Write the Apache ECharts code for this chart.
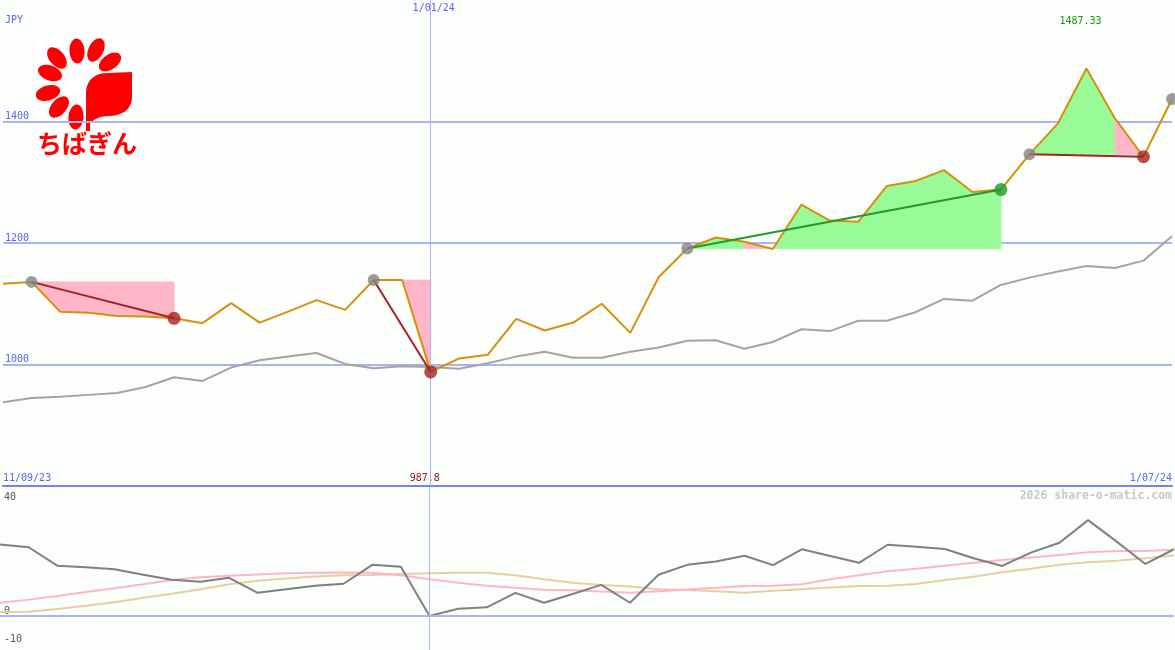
<!DOCTYPE html>
<html><head><meta charset="utf-8">
<script src="https://cdn.jsdelivr.net/npm/echarts@6/dist/echarts.min.js"></script>
<style>html,body{margin:0;padding:0;background:#fcfefc}#c{width:1175px;height:650px}</style>
</head><body><div id="c"></div>
<script>
// ---- data ----
const categories = ['18/09/23','25/09/23','2/10/23','9/10/23','16/10/23','23/10/23','30/10/23','6/11/23','13/11/23','20/11/23','27/11/23','4/12/23','11/12/23','18/12/23','25/12/23','1/01/24','8/01/24','15/01/24','22/01/24','29/01/24','5/02/24','12/02/24','19/02/24','26/02/24','4/03/24','11/03/24','18/03/24','25/03/24','1/04/24','8/04/24','15/04/24','22/04/24','29/04/24','6/05/24','13/05/24','20/05/24','27/05/24','3/06/24','10/06/24','17/06/24','24/06/24','1/07/24'];
const closePrices = [1133,1136,1087,1085,1080,1079,1076,1068,1101,1069,1087,1106,1090,1139,1139,987.8,1010,1016,1075,1056,1069,1100,1052,1144,1191,1209,1202,1190,1263,1237,1235,1294,1302,1320,1284,1288,1346,1397,1487.33,1405,1342,1437];
const movingAvg = [938,945,947,950,953,963,979,973,995,1007,1013,1019,1001,994,997,996,993,1002,1013,1021,1011,1011,1021,1028,1039,1040,1026,1037,1058,1055,1072,1072,1086,1108,1105,1131,1143,1153,1162,1159,1171,1211];
const oscDark = [25.3,24.3,17.8,17.2,16.5,14.6,12.8,12.1,13.5,8.2,9.5,10.7,11.4,18.1,17.4,0,2.6,3.1,8.2,4.7,7.8,11.0,4.7,14.6,18.1,19.3,21.3,18.0,23.6,21.2,18.8,25.2,24.5,23.7,20.4,17.7,22.4,25.9,33.9,26.3,18.4,23.6];
const oscPink = [4.7,5.8,7.1,8.5,9.8,11.2,12.7,13.7,14.2,14.7,15.1,15.3,15.4,15.3,14.4,13.0,11.8,10.7,10.0,9.3,9.1,8.7,8.2,8.8,9.4,10.0,10.6,10.7,11.2,13.0,14.4,15.8,16.7,17.8,18.8,19.8,20.7,21.6,22.5,23.0,23.0,23.4];
const oscTan = [1.4,1.5,2.5,3.6,4.9,6.5,7.9,9.5,11.2,12.5,13.3,14.0,14.4,14.5,14.9,15.1,15.3,15.3,14.4,13.0,11.8,11.0,10.4,9.5,9.2,8.8,8.2,8.9,9.5,10.1,10.6,10.7,11.3,12.7,13.9,15.5,16.7,18.1,19.0,19.5,20.4,21.4];
const swings = [[1,6],[13,15],[24,35],[36,40]];
const openSwingStarts = [41];
const bottomTickLabels = [[0,'11/09/23'],[41,'1/07/24']];
const topTickLabels = [[15,'1/01/24']];
const yearMarkIndex = 15;
const priceTickLabels = [1000,1200,1400];
const oscTickLabels = [-10,0,40];

// ---- colours ----
const BLUE_TXT='#5566ee', GRID='#a8b4f4', SEP='#7383e6';
const ORANGE='#d8900c', MA_GRAY='#a4a4a4';
const PINK_FILL='#ffb6c8', GREEN_FILL='#98fb98';
const DARKRED='#a52222', GREEN='#22992a', MARK_GRAY='#858585';
const MONO='"DejaVu Sans Mono", monospace';

let lowIdx=0, highIdx=0;
closePrices.forEach((v,i)=>{ if(v<closePrices[lowIdx]) lowIdx=i; if(v>closePrices[highIdx]) highIdx=i; });
const bottomMap={}; bottomTickLabels.forEach(([i,l])=>bottomMap[i]=l);
const topMap={}; topTickLabels.forEach(([i,l])=>topMap[i]=l);

// fill segments
const fillData=[];
swings.forEach(([s,e])=>{ const lvl=closePrices[s]; for(let i=s+1;i<=e;i++) fillData.push([i,lvl]); });
const swingData = swings.map(([s,e])=>[s,e]);
const markerData=[];
swings.forEach(([s,e])=>{
  markerData.push({value:[s,closePrices[s]],symbolSize:12,itemStyle:{color:MARK_GRAY}});
  markerData.push({value:[e,closePrices[e]],symbolSize:13,itemStyle:{color:closePrices[e]>=closePrices[s]?GREEN:DARKRED}});
});
openSwingStarts.forEach(s=>markerData.push({value:[s,closePrices[s]],symbolSize:12,itemStyle:{color:MARK_GRAY}}));

// ---- logo (drawing, not data) ----
function bez(p0,p1,p2,p3,n){const o=[];for(let k=1;k<=n;k++){const t=k/n,u=1-t;o.push([u*u*u*p0[0]+3*u*u*t*p1[0]+3*u*t*t*p2[0]+t*t*t*p3[0],u*u*u*p0[1]+3*u*u*t*p1[1]+3*u*t*t*p2[1]+t*t*t*p3[1]]);}return o;}
const leafPts=[[86,131],[86,93]]
  .concat(bez([86,93],[86,80],[95,73],[108,73],10))
  .concat([[132,72],[132,97]])
  .concat(bez([132,97],[132,110],[121,116],[109,116],10))
  .concat(bez([109,116],[100,116],[93,119],[90,124],6))
  .concat([[90,131]]);
const flowerC=[79,84];
const petals=[[77,51],[96,50],[57,58],[110,62],[50,73],[48,93],[59,107],[76,117]];
const logoEls=[{type:'rect',shape:{x:35,y:33,width:100,height:130},style:{fill:'#ffffff'}}];
petals.forEach(([x,y])=>{
  const th=Math.atan2(x-flowerC[0], -(y-flowerC[1]));
  logoEls.push({type:'ellipse',x:x,y:y,rotation:-th,shape:{cx:0,cy:0,rx:7.5,ry:12.5},style:{fill:'#ff0000'}});
});
logoEls.push({type:'polygon',shape:{points:leafPts},style:{fill:'#ff0000'}});
logoEls.push({type:'text',x:37,y:131,style:{text:'ちばぎん',fill:'#ff0000',font:'bold 25px "Noto Sans CJK JP"',textVerticalAlign:'top'}});

const chart=echarts.init(document.getElementById('c'),null,{renderer:'canvas'});
chart.setOption({
  animation:false,
  backgroundColor:'#fcfefc',
  grid:[{left:0,right:1,top:0,height:486},{left:0,right:1,top:487,height:163}],
  xAxis:[
    {type:'category',gridIndex:0,data:categories,boundaryGap:false,position:'bottom',
     axisLine:{show:true,lineStyle:{color:SEP,width:2}},axisTick:{show:false},splitLine:{show:false},
     axisLabel:{inside:true,margin:3,color:BLUE_TXT,fontFamily:MONO,fontSize:10,
       alignMinLabel:'left',alignMaxLabel:'right',
       interval:(i)=>bottomMap[i]!==undefined||i===lowIdx,
       formatter:(v,i)=> i===lowIdx ? '{lo|'+closePrices[lowIdx]+'}' : (bottomMap[i]||''),
       rich:{lo:{color:'#a01818',fontFamily:MONO,fontSize:10,padding:[0,12,0,0]}}}},
    {type:'category',gridIndex:0,data:categories,boundaryGap:false,position:'top',
     axisLine:{show:false},axisTick:{show:false},splitLine:{show:false},
     axisLabel:{inside:true,margin:3,color:BLUE_TXT,fontFamily:MONO,fontSize:10,
       interval:(i)=>topMap[i]!==undefined||i===highIdx,
       formatter:(v,i)=> i===highIdx ? '{hi|'+closePrices[highIdx]+'}' : '{d|'+(topMap[i]||'')+'}',
       rich:{hi:{color:'#119911',fontFamily:MONO,fontSize:10,padding:[13,12,0,0]},
             d:{color:BLUE_TXT,fontFamily:MONO,fontSize:10,padding:[0,0,0,6]}}}},
    {type:'category',gridIndex:1,data:categories,boundaryGap:false,
     axisLine:{show:false},axisTick:{show:false},axisLabel:{show:false},splitLine:{show:false}}
  ],
  yAxis:[
    {type:'value',gridIndex:0,min:800,max:1600,interval:200,
     axisLine:{show:false},axisTick:{show:false},
     splitLine:{show:true,showMinLine:false,showMaxLine:false,lineStyle:{color:GRID,width:2}},
     axisLabel:{inside:true,margin:2,verticalAlign:'bottom',color:BLUE_TXT,fontFamily:MONO,fontSize:10,
       customValues:priceTickLabels,formatter:(v)=>String(v)}},
    {type:'value',gridIndex:1,min:-12,max:45.6,
     axisLine:{show:false},axisTick:{show:false},splitLine:{show:false},
     axisLabel:{inside:true,margin:4,verticalAlign:'bottom',color:'#555',fontFamily:MONO,fontSize:10,
       customValues:oscTickLabels,formatter:(v)=>String(v)}}
  ],
  graphic:[
    {type:'group',z:100,children:logoEls},
    {type:'text',x:5,y:20,z:100,style:{text:'JPY',fill:BLUE_TXT,font:'10px '+MONO,textVerticalAlign:'middle'}},
    {type:'text',x:1172,y:496,z:100,style:{text:'2026 share-o-matic.com',fill:'#c8c8c8',font:'bold 11.5px '+MONO,textAlign:'right',textVerticalAlign:'middle'}}
  ],
  series:[
    {type:'custom',xAxisIndex:0,yAxisIndex:0,z:1,data:fillData,silent:true,
     renderItem:(params,api)=>{
       const i=api.value(0), lvl=api.value(1);
       const pts=[api.coord([i-1,closePrices[i-1]]),api.coord([i,closePrices[i]]),api.coord([i,lvl]),api.coord([i-1,lvl])];
       const c=closePrices[i]>=lvl?GREEN_FILL:PINK_FILL;
       return {type:'polygon',shape:{points:pts},style:{fill:c,stroke:c,lineWidth:0.8}};
     }},
    {type:'line',xAxisIndex:0,yAxisIndex:0,z:2,data:movingAvg,symbol:'none',lineStyle:{color:MA_GRAY,width:2},
     markLine:{silent:true,symbol:'none',label:{show:false},lineStyle:{color:GRID,width:1,type:'solid'},data:[{xAxis:categories[yearMarkIndex]}]}},
    {type:'line',xAxisIndex:0,yAxisIndex:0,z:3,data:closePrices,symbol:'none',lineStyle:{color:ORANGE,width:2}},
    {type:'custom',xAxisIndex:0,yAxisIndex:0,z:4,data:swingData,silent:true,
     renderItem:(params,api)=>{
       const s=api.value(0), e=api.value(1);
       const a=api.coord([s,closePrices[s]]), b=api.coord([e,closePrices[e]]);
       return {type:'line',shape:{x1:a[0],y1:a[1],x2:b[0],y2:b[1]},style:{stroke:closePrices[e]>=closePrices[s]?GREEN:DARKRED,lineWidth:2}};
     }},
    {type:'scatter',xAxisIndex:0,yAxisIndex:0,z:5,data:markerData,symbol:'circle'},
    {type:'line',xAxisIndex:2,yAxisIndex:1,z:2,data:oscTan,symbol:'none',lineStyle:{color:'#e6d0a0',width:2}},
    {type:'line',xAxisIndex:2,yAxisIndex:1,z:3,data:oscPink,symbol:'none',lineStyle:{color:'#ffb4c8',width:2}},
    {type:'line',xAxisIndex:2,yAxisIndex:1,z:4,data:oscDark,symbol:'none',lineStyle:{color:'#808080',width:2},
     markLine:{silent:true,symbol:'none',label:{show:false},
       data:[{xAxis:categories[yearMarkIndex],lineStyle:{color:GRID,width:1,type:'solid'}},
             {yAxis:0,lineStyle:{color:GRID,width:2,type:'solid'}}]}}
  ]
});
</script></body></html>
